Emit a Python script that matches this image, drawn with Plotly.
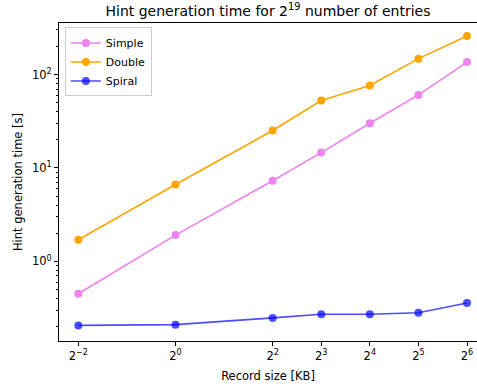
import math
import plotly.graph_objects as go

record_sizes = [0.25, 1, 4, 8, 16, 32, 64]
simple = [0.45, 1.91, 7.3, 14.6, 30.1, 60.5, 136]
double = [1.70, 6.66, 25.2, 52.7, 76.3, 148, 259]
spiral = [0.206, 0.210, 0.248, 0.271, 0.271, 0.282, 0.358]

x_tickvals = [0.25, 1, 4, 8, 16, 32, 64]
x_ticktext = ["2<sup>\u22122</sup>", "2<sup>0</sup>", "2<sup>2</sup>", "2<sup>3</sup>",
              "2<sup>4</sup>", "2<sup>5</sup>", "2<sup>6</sup>"]
y_tickvals = [1, 10, 100]
y_ticktext = ["10<sup>0</sup>", "10<sup>1</sup>", "10<sup>2</sup>"]
y_minor = [m * 10 ** e for e in (-1, 0, 1, 2) for m in range(2, 10)]

FONT = "DejaVu Sans"
FS = 11.5

fig = go.Figure()
series = [
    ("Simple", simple, "rgb(238,130,238)"),
    ("Double", double, "rgb(255,165,0)"),
    ("Spiral", spiral, "rgba(0,0,255,0.7)"),
]
for name, vals, col in series:
    fig.add_trace(go.Scatter(
        x=record_sizes, y=vals, name=name, mode="lines+markers",
        line=dict(color=col, width=1.6),
        marker=dict(color=col, size=8),
    ))

L, T, B = 59, 23, 49
W, H = 477, 390
px_per_oct = (467 - 78.3) / 8
x_lo = -2 - (78.3 - L) / px_per_oct
x_hi = 6 + (W - 467) / px_per_oct

fig.update_layout(
    width=W, height=H,
    margin=dict(l=L, r=0, t=T, b=B, pad=0, autoexpand=False),
    paper_bgcolor="white", plot_bgcolor="white",
    font=dict(family=FONT, size=FS, color="black"),
    title=dict(text="Hint generation time for 2<sup>19</sup> number of entries",
               x=0.5, xref="paper", xanchor="center", y=1 - 11 / H, yanchor="middle",
               font=dict(family=FONT, size=14, color="black")),
    showlegend=True,
    legend=dict(x=0.014, y=0.986, xanchor="left", yanchor="top",
                bgcolor="rgba(255,255,255,0.8)", bordercolor="#cccccc", borderwidth=1,
                font=dict(family=FONT, size=11), itemwidth=30, tracegroupgap=0),
    xaxis=dict(type="log", range=[x_lo * math.log10(2), x_hi * math.log10(2)],
               tickvals=x_tickvals, ticktext=x_ticktext, automargin=False,
               showgrid=False, zeroline=False,
               showline=True, linecolor="black", linewidth=1, mirror=True,
               ticks="outside", ticklen=4, tickcolor="black",
               title=dict(text="Record size [KB]", standoff=10,
                          font=dict(family=FONT, size=FS))),
    yaxis=dict(type="log", range=[-0.853, 2.552],
               tickvals=y_tickvals, ticktext=y_ticktext, automargin=False,
               showgrid=False, zeroline=False,
               showline=True, linecolor="black", linewidth=1, mirror=True,
               ticks="outside", ticklen=4, tickcolor="black",
               minor=dict(tickvals=y_minor, ticks="outside", ticklen=2, tickcolor="black",
                          showgrid=False),
               title=dict(text="Hint generation time [s]", standoff=6,
                          font=dict(family=FONT, size=FS))),
)

fig.write_html("out.html",
               config={"displayModeBar": False},
               post_script="document.body.style.margin='0';document.body.style.overflow='hidden';")
